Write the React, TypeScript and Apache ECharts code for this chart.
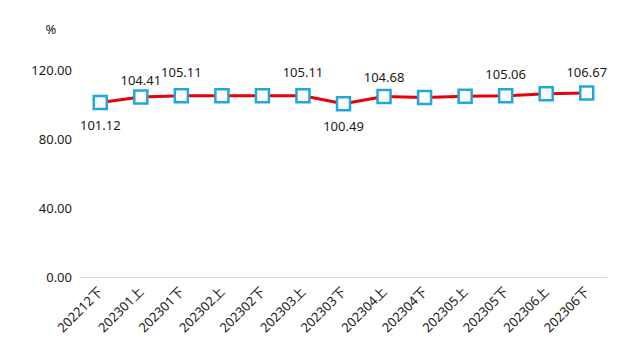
import React, { useEffect, useRef } from "react";
import * as echarts from "echarts";

const categories = ["202212下", "202301上", "202301下", "202302上", "202302下", "202303上", "202303下", "202304上", "202304下", "202305上", "202305下", "202306上", "202306下"];
const values = [101.12, 104.41, 105.11, 105.1, 105.1, 105.11, 100.49, 104.68, 104.1, 104.8, 105.06, 106.2, 106.67];
const showLabel = [true, true, true, false, false, true, true, true, false, false, true, false, true];
const labelBelow = [true, false, false, false, false, false, true, false, false, false, false, false, false];
const labelGap = [8, 3, 9, 8, 8, 9, 8, 5, 8, 8, 8, 8, 7];
const yTicks = [0, 40, 80, 120];

export default function App() {
  const ref = useRef<HTMLDivElement>(null);
  useEffect(() => {
    const chart = echarts.init(ref.current!, undefined, { renderer: "svg" });
    const font = "'Noto Sans', 'Noto Sans CJK SC', sans-serif";
    chart.setOption({
      animation: false,
      textStyle: { fontFamily: font },
      grid: { left: 80, right: 26, top: 70, bottom: 79 },
      xAxis: {
        type: "category",
        data: categories,
        boundaryGap: true,
        axisLine: { lineStyle: { color: "#d9d9d9" } },
        axisTick: { show: false },
        axisLabel: { rotate: 45, color: "#1a1a1a", fontSize: 13, fontFamily: font, interval: 0, margin: 12 },
      },
      yAxis: {
        type: "value",
        name: "%",
        nameGap: 35,
        nameTextStyle: { color: "#1a1a1a", fontSize: 13, fontFamily: font, padding: [0, 58, 0, 0] },
        min: yTicks[0],
        max: yTicks[yTicks.length - 1],
        interval: 40,
        axisLine: { show: false },
        axisTick: { show: false },
        splitLine: { show: false },
        axisLabel: { color: "#1a1a1a", fontSize: 13, fontFamily: font, margin: 8, formatter: (v: number) => v.toFixed(2) },
      },
      series: [
        {
          type: "line",
          data: values.map((v, i) => ({
            value: v,
            label: {
              show: showLabel[i],
              position: labelBelow[i] ? "bottom" : "top",
              distance: labelGap[i],
            },
          })),
          symbol: "rect",
          symbolSize: 13,
          lineStyle: { color: "#e8000b", width: 3 },
          itemStyle: { color: "#ffffff", borderColor: "#22a6df", borderWidth: 2.5 },
          label: { color: "#1a1a1a", fontSize: 13, fontFamily: font, formatter: (p: any) => p.value.toFixed(2) },
        },
      ],
    });
    return () => chart.dispose();
  }, []);
  return <div ref={ref} style={{ width: 633, height: 356, margin: -8 }} />;
}
